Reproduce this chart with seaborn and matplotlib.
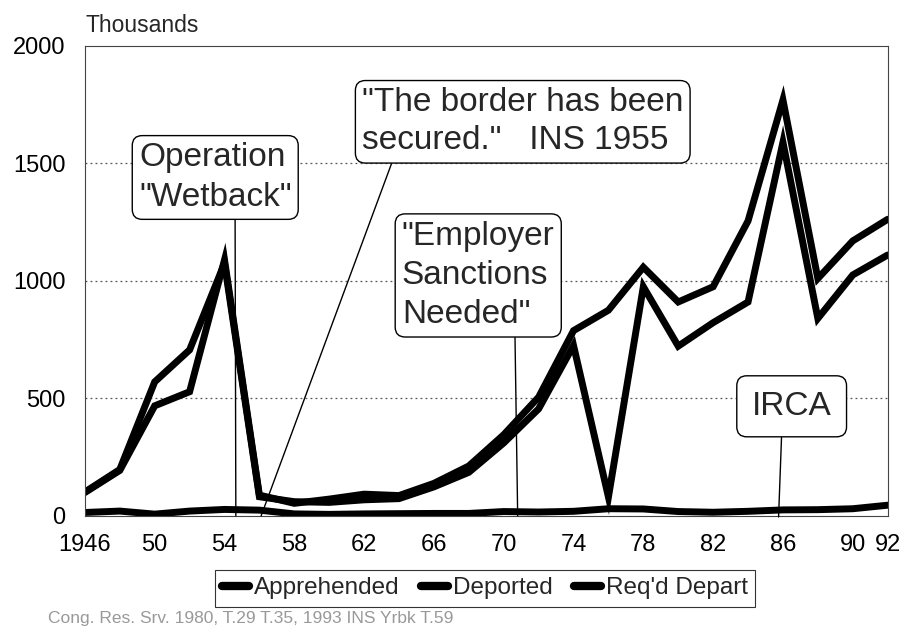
import pandas as pd
import matplotlib
matplotlib.use('Agg')
import matplotlib.pyplot as plt
import seaborn as sns

# Data (thousands), every other year 1946-1992
years = [1946, 1948, 1950, 1952, 1954, 1956, 1958, 1960, 1962, 1964, 1966, 1968,
         1970, 1972, 1974, 1976, 1978, 1980, 1982, 1984, 1986, 1988, 1990, 1992]
apprehended = [99, 193, 468, 528, 1089, 88, 53, 71, 92, 86, 138, 212,
               345, 505, 788, 875, 1058, 910, 975, 1255, 1770, 1010, 1170, 1262]
deported = [14, 20, 7, 20, 27, 24, 8, 6, 8, 9, 10, 10,
            18, 16, 19, 30, 29, 18, 15, 19, 25, 26, 30, 45]
reqd_depart = [101, 197, 570, 706, 1075, 81, 60, 57, 68, 73, 123, 185,
               310, 455, 725, 80, 975, 722, 822, 910, 1590, 840, 1025, 1110]

series_names = ['Apprehended', 'Deported', "Req'd Depart"]
tick_years = [1946, 1950, 1954, 1958, 1962, 1966, 1970, 1974, 1978, 1982, 1986, 1990, 1992]
tick_labels = ['1946', '50', '54', '58', '62', '66', '70', '74', '78', '82', '86', '90', '92']
y_ticks = [0, 500, 1000, 1500, 2000]

df = pd.DataFrame({
    'year': years * 3,
    'value': apprehended + deported + reqd_depart,
    'series': [series_names[0]] * len(years) + [series_names[1]] * len(years)
              + [series_names[2]] * len(years),
})

sns.set_theme(style='white')
plt.rcParams['font.family'] = ['Liberation Sans', 'DejaVu Sans']

fig = plt.figure(figsize=(9.03, 6.29), dpi=100)
ax = fig.add_axes([0.094, 0.180, 0.889, 0.747])

sns.lineplot(
    data=df, x='year', y='value', hue='series', hue_order=series_names,
    palette={n: 'black' for n in series_names},
    linewidth=5, solid_joinstyle='miter', ax=ax
)

ax.set_xlim(1946, 1992)
ax.set_ylim(0, 2000)
ax.set_xticks(tick_years)
ax.set_xticklabels(tick_labels)
ax.set_yticks(y_ticks)
ax.set_xlabel('')
ax.set_ylabel('')
ax.tick_params(axis='both', length=0, labelsize=17, colors='black')
ax.tick_params(axis='x', pad=13)
ax.tick_params(axis='y', pad=14)

for yv in [500, 1000, 1500]:
    ax.axhline(yv, color='#555555', lw=0.9, ls=(0, (1.5, 2.5)), zorder=0)

for sp in ax.spines.values():
    sp.set_color('#444444')
    sp.set_linewidth(0.8)

fig.text(0.095, 0.96, 'Thousands', fontsize=16.5, ha='left', va='center')

box = dict(boxstyle='round,pad=0.2,rounding_size=0.3', fc='white', ec='black', lw=1.0)
line = dict(arrowstyle='-', color='black', lw=1.0, shrinkA=0, shrinkB=0)

ax.annotate('Operation\n"Wetback"', xy=(1954.65, 0), xytext=(1953.47, 1440),
            fontsize=24, ha='center', va='center', multialignment='left',
            linespacing=1.35, bbox=box, arrowprops=dict(line, relpos=(0.63, 0)))
ax.annotate('"The border has been\nsecured."   INS 1955', xy=(1956.1, 0),
            xytext=(1971.09, 1677), fontsize=24, ha='center', va='center',
            multialignment='left', linespacing=1.3, bbox=box,
            arrowprops=dict(line, relpos=(0.1, 0)))
ax.annotate('"Employer\nSanctions\nNeeded"', xy=(1970.8, 0), xytext=(1968.54, 1023),
            fontsize=24, ha='center', va='center', multialignment='left',
            linespacing=1.35, bbox=box, arrowprops=dict(line, relpos=(0.74, 0)))
ax.annotate('IRCA', xy=(1985.75, -5), xytext=(1986.5, 466),
            fontsize=24, ha='center', va='center',
            bbox=dict(box, boxstyle='round,pad=0.45,rounding_size=0.3'),
            arrowprops=dict(line, relpos=(0.38, 0)), annotation_clip=False)

sns.move_legend(
    ax, 'center', bbox_to_anchor=(0.537, 0.0644), bbox_transform=fig.transFigure,
    ncol=3, title=None, frameon=True, fontsize=17.5, handlelength=1.1,
    handletextpad=0.2, columnspacing=0.9, borderpad=0.3, fancybox=False,
    edgecolor='black'
)
leg = ax.get_legend()
leg.get_frame().set_linewidth(0.8)
for h in leg.get_lines():
    h.set_linewidth(6)

fig.text(0.053, 0.004, 'Cong. Res. Srv. 1980, T.29 T.35, 1993 INS Yrbk T.59',
         fontsize=12.5, color='#999999', ha='left', va='bottom')

plt.savefig('out.png', dpi=100)
